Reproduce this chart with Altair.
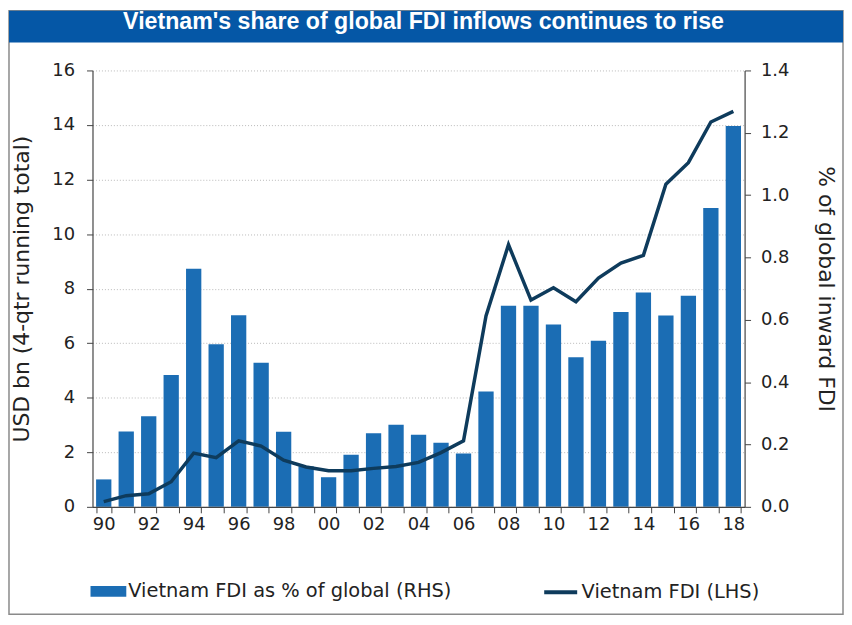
import altair as alt
import pandas as pd

years = ["90", "91", "92", "93", "94", "95", "96", "97", "98", "99",
         "00", "01", "02", "03", "04", "05", "06", "07", "08", "09",
         "10", "11", "12", "13", "14", "15", "16", "17", "18"]

# Vietnam FDI as % of global (RHS)
share_pct = [0.088, 0.242, 0.291, 0.423, 0.764, 0.522, 0.615, 0.462, 0.241, 0.130,
             0.095, 0.167, 0.236, 0.263, 0.231, 0.206, 0.171, 0.370, 0.645, 0.645,
             0.585, 0.480, 0.533, 0.625, 0.688, 0.614, 0.677, 0.959, 1.222]

# Vietnam FDI, USD bn (LHS)
fdi_usd = [0.19, 0.41, 0.48, 0.92, 1.97, 1.80, 2.42, 2.23, 1.71, 1.46,
           1.32, 1.32, 1.41, 1.48, 1.63, 1.99, 2.42, 7.00, 9.61, 7.58,
           8.03, 7.52, 8.39, 8.94, 9.22, 11.83, 12.62, 14.11, 14.50]

bar_name = "Vietnam FDI as % of global (RHS)"
line_name = "Vietnam FDI (LHS)"
title_text = "Vietnam's share of global FDI inflows continues to rise"

df = pd.DataFrame({"year": years, "share": share_pct, "fdi": fdi_usd,
                   "bar_s": bar_name, "line_s": line_name})

FONT = "DejaVu Sans"
BAR_C = "#1b6db4"
LINE_C = "#0e3b5c"
HEAD_C = "#0557a6"

x_enc = alt.X("year:N", sort=years, title=None,
              scale=alt.Scale(paddingInner=0.32, paddingOuter=0.16),
              axis=alt.Axis(labelAngle=0, tickBand="extent", tickSize=6,
                            labelPadding=3, grid=False, zindex=1,
                            labelExpr="parseInt(datum.value) % 2 == 0 ? datum.value : ''"))

bars = alt.Chart(df).mark_bar(color=BAR_C).encode(
    x=x_enc,
    y=alt.Y("share:Q", title="% of global inward FDI",
            scale=alt.Scale(domain=[0, 1.4], nice=False),
            axis=alt.Axis(orient="right", values=[0, 0.2, 0.4, 0.6, 0.8, 1.0, 1.2, 1.4],
                          format=".1f", grid=False, tickSize=6, labelPadding=10,
                          titlePadding=25, zindex=1)),
    fill=alt.Fill("bar_s:N", title=None,
                  scale=alt.Scale(domain=[bar_name], range=[BAR_C]),
                  legend=alt.Legend(orient="none", legendX=-2, legendY=506,
                                    symbolType="M-1,-0.3H1V0.3H-1Z", symbolSize=1296,
                                    symbolStrokeWidth=0, labelFont=FONT, labelFontSize=19.5,
                                    labelColor="#222", padding=0, labelOffset=2,
                                    labelLimit=600)),
)

line = alt.Chart(df).mark_line(color=LINE_C, strokeWidth=3.5).encode(
    x=alt.X("year:N", sort=years),
    y=alt.Y("fdi:Q", title="USD bn (4-qtr running total)",
            scale=alt.Scale(domain=[0, 16], nice=False),
            axis=alt.Axis(orient="left", values=list(range(0, 17, 2)), grid=True,
                          gridColor="#b8b8b8", gridDash=[1, 2], gridWidth=1,
                          tickSize=6, labelPadding=12, titlePadding=18)),
    stroke=alt.Stroke("line_s:N", title=None,
                      scale=alt.Scale(domain=[line_name], range=[LINE_C]),
                      legend=alt.Legend(orient="none", legendX=452, legendY=506,
                                        symbolType="stroke", symbolSize=1100,
                                        symbolStrokeWidth=4, labelFont=FONT,
                                        labelFontSize=19.5, labelColor="#222",
                                        padding=0, labelOffset=2, labelLimit=600)),
)

one = alt.Data(values=[{"k": 1}])

border = alt.Chart(one).mark_rect(filled=False, stroke="#8a8a8a", strokeWidth=1.5).encode(
    x=alt.value(-84), x2=alt.value(755), y=alt.value(-60), y2=alt.value(547))

head = alt.Chart(one).mark_rect(fill=HEAD_C).encode(
    x=alt.value(-84), x2=alt.value(755), y=alt.value(-60), y2=alt.value(-28))

head_text = alt.Chart(one).mark_text(
    text=title_text, font="Liberation Sans", fontWeight="bold", fontSize=23.3,
    color="white", align="center", baseline="alphabetic").encode(
    x=alt.value(333), y=alt.value(-42))

chart = alt.layer(border, head, head_text, bars, line).resolve_scale(
    y="independent", fill="independent", stroke="independent"
).properties(
    width=656, height=439, padding=0, background="white"
).configure_view(stroke=None).configure_axis(
    labelFont=FONT, labelFontSize=18, labelColor="#222",
    titleFont=FONT, titleFontSize=22, titleColor="#222", titleFontWeight="normal",
    domainColor="#444", tickColor="#444", domainWidth=1.2
)

chart.save("out.html", embed_options={"renderer": "svg", "actions": False})
